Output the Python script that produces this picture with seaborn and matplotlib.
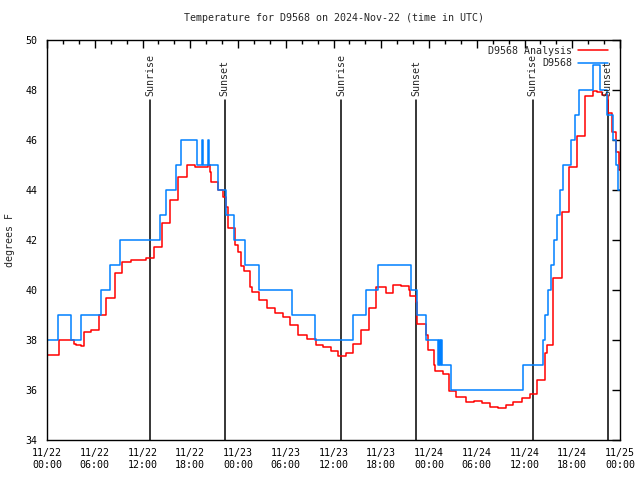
import numpy as np
import pandas as pd
import matplotlib
matplotlib.use("Agg")
import matplotlib.pyplot as plt
import matplotlib.dates as mdates
import seaborn as sns

START = pd.Timestamp("2024-11-22 00:00")
END = pd.Timestamp("2024-11-25 00:00")

# observed station temps (hours since 11/22 00Z, degF), step changes
obs_hours = [0.0, 1.38, 3.0, 4.27, 6.78, 7.9, 9.16, 14.18, 14.93, 16.19, 16.88,
             18.82, 19.45, 19.6, 20.2, 20.35, 21.49, 22.46, 23.46, 24.84, 26.6,
             30.78, 33.63, 38.43, 40.11, 41.57, 45.76, 46.46, 47.64, 49.1, 49.2,
             49.4, 49.5, 49.69, 50.82, 59.76, 62.36, 62.6, 62.9, 63.32, 63.74,
             64.11, 64.49, 64.87, 65.83, 66.37, 66.88, 68.63, 69.47, 70.39, 71.14,
             71.52, 71.8]
obs_temp = [38, 39, 38, 39, 40, 41, 42, 43, 44, 45, 46,
            45, 46, 45, 46, 45, 44, 43, 42, 41, 40,
            39, 38, 39, 40, 41, 40, 39, 38, 37, 38,
            37, 38, 37, 36, 37, 38, 39, 40, 41, 42,
            43, 44, 45, 46, 47, 48, 49, 48, 47, 46,
            45, 44]

# analysis temps
ana_hours = [0.0, 1.47, 3.39, 3.64, 4.23, 4.64, 5.48, 6.52, 7.44, 8.49, 9.45,
             10.58, 12.38, 13.43, 14.47, 15.43, 16.47, 17.53, 18.57, 20.24, 20.45,
             20.67, 21.49, 22.12, 22.46, 22.75, 23.59, 24.0, 24.43, 24.72, 25.56,
             25.76, 26.64, 27.64, 28.61, 29.65, 30.58, 31.53, 32.71, 33.75, 34.67,
             35.72, 36.56, 37.52, 38.43, 39.48, 40.44, 41.37, 42.54, 43.45, 44.51,
             45.46, 45.67, 46.39, 46.55, 47.64, 47.93, 48.68, 48.81, 49.72, 50.48,
             51.41, 52.66, 53.7, 54.67, 55.67, 56.63, 57.68, 58.6, 59.69, 60.69,
             61.54, 62.6, 62.77, 63.53, 64.7, 65.62, 66.62, 67.6, 68.63, 69.17,
             69.8, 70.55, 70.98, 71.48, 71.9]
ana_temp = [37.4, 38.0, 37.85, 37.8, 37.75, 38.3, 38.38, 39.0, 39.67, 40.67, 41.1,
            41.2, 41.27, 41.7, 42.67, 43.6, 44.53, 45.0, 44.9, 45.0, 44.7,
            44.33, 44.0, 43.7, 43.33, 42.47, 41.8, 41.5, 40.96, 40.76, 40.13,
            39.9, 39.6, 39.27, 39.09, 38.93, 38.6, 38.2, 38.03, 37.8, 37.7,
            37.57, 37.36, 37.47, 37.83, 38.4, 39.27, 40.13, 39.89, 40.2, 40.15,
            40.0, 39.76, 39.53, 38.64, 38.2, 37.6, 37.0, 36.77, 36.64, 35.95,
            35.73, 35.53, 35.57, 35.47, 35.33, 35.27, 35.4, 35.53, 35.67, 35.84,
            36.4, 37.47, 37.8, 40.47, 43.1, 44.93, 46.17, 47.76, 47.95, 47.9,
            47.8, 47.07, 46.33, 45.5, 44.8]

sunrise = ["2024-11-22 12:58", "2024-11-23 12:59", "2024-11-24 13:01"]
sunset = ["2024-11-22 22:20", "2024-11-23 22:23", "2024-11-24 22:26"]


def frame(hours, temps, name):
    t = [START + pd.Timedelta(hours=h) for h in hours] + [END]
    v = list(temps) + [temps[-1]]
    return pd.DataFrame({"time": t, "temp": v, "series": name})


df = pd.concat([frame(ana_hours, ana_temp, "D9568 Analysis"),
                frame(obs_hours, obs_temp, "D9568")], ignore_index=True)

sns.set_style("white")
plt.rcParams["font.family"] = ["DejaVu Sans Mono"]
plt.rcParams["font.size"] = 7

fig = plt.figure(figsize=(6.4, 4.8), dpi=100)
ax = fig.add_axes([47 / 640, 40 / 480, 573 / 640, 400 / 480])

sns.lineplot(data=df, x="time", y="temp", hue="series",
             hue_order=["D9568 Analysis", "D9568"],
             palette={"D9568 Analysis": "#ff0000", "D9568": "#0080ff"},
             drawstyle="steps-post", estimator=None, linewidth=1.1, ax=ax)

for lbl, times in (("Sunrise", sunrise), ("Sunset", sunset)):
    for s in times:
        t = pd.Timestamp(s)
        ax.plot([t, t], [34, 47.6], color="black", lw=1.1, zorder=1)
        ax.text(t, 47.75, lbl, rotation=90, ha="center", va="bottom", fontsize=7.2)

ax.set_xlim(START, END)
ax.set_ylim(34, 50)
ax.set_yticks(np.arange(34, 51, 2))
ax.xaxis.set_major_locator(mdates.HourLocator(byhour=[0, 6, 12, 18]))
ax.xaxis.set_minor_locator(mdates.HourLocator(interval=2))
ax.xaxis.set_major_formatter(mdates.DateFormatter("%m/%d\n%H:%M"))

ax.tick_params(axis="both", which="both", direction="in", top=True, right=True,
               colors="black", labelsize=7.2)
ax.tick_params(axis="both", which="major", length=6, width=1)
ax.tick_params(axis="x", which="minor", length=3, width=1)
ax.tick_params(axis="x", which="major", pad=6)
ax.tick_params(axis="y", which="major", pad=7)
for sp in ax.spines.values():
    sp.set_color("black")
    sp.set_linewidth(1)

ax.set_xlabel("")
ax.set_ylabel("degrees F", fontsize=7.2)
ax.yaxis.set_label_coords(-0.056, 0.5)
ax.set_title("Temperature for D9568 on 2024-Nov-22 (time in UTC)", fontsize=7.2, pad=14)

handles, labels = ax.get_legend_handles_labels()
ax.legend(handles, labels, loc="upper right", frameon=False, markerfirst=False,
          fontsize=7.2, handlelength=3.0, handletextpad=0.6, labelspacing=0.25,
          borderaxespad=0.2, bbox_to_anchor=(0.99, 1.0))

fig.savefig("out.png", dpi=100)
